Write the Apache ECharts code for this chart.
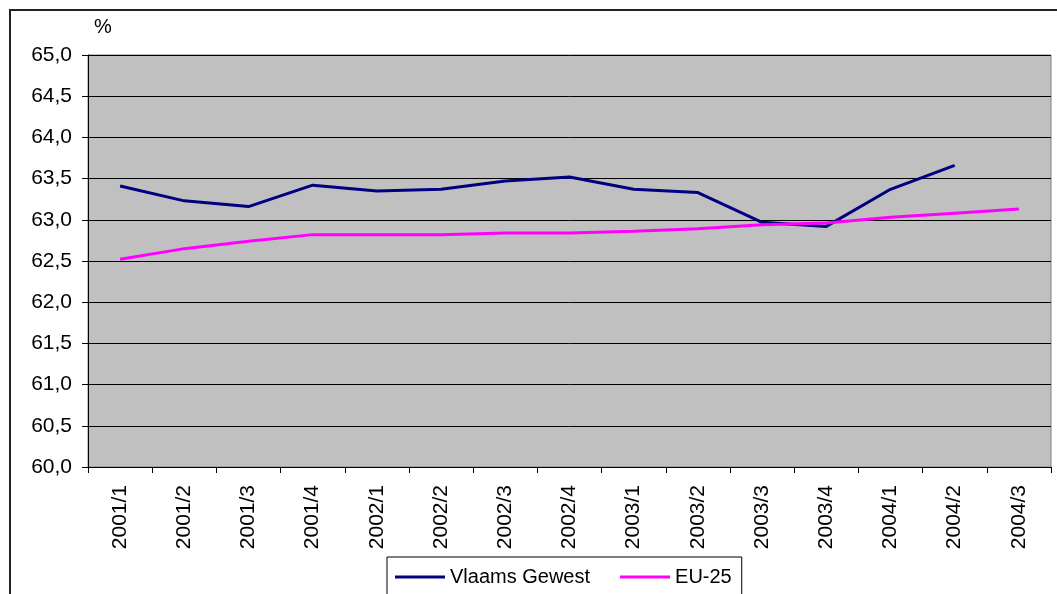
<!DOCTYPE html>
<html>
<head>
<meta charset="utf-8">
<script src="https://cdn.jsdelivr.net/npm/echarts@6/dist/echarts.min.js"></script>
<style>
  html, body { margin: 0; padding: 0; background: #fff; }
  #main { width: 1057px; height: 594px; }
</style>
</head>
<body>
<div id="main"></div>
<script>
  // kwartalen
  var categories = ['2001/1', '2001/2', '2001/3', '2001/4', '2002/1', '2002/2', '2002/3', '2002/4',
    '2003/1', '2003/2', '2003/3', '2003/4', '2004/1', '2004/2', '2004/3']
  var vlaamsGewest = [63.41, 63.23, 63.16, 63.42, 63.35, 63.37, 63.47, 63.52,
    63.37, 63.33, 62.97, 62.92, 63.37, 63.66, null]
  var eu25 = [62.52, 62.65, 62.74, 62.82, 62.82, 62.82, 62.84, 62.84,
    62.86, 62.89, 62.94, 62.96, 63.03, 63.08, 63.13]
  var seriesNames = ['Vlaams Gewest', 'EU-25']

  var font = 'Liberation Sans, Arial, sans-serif'
  var myChart = echarts.init(document.getElementById('main'))

  myChart.setOption({
    animation: false,
    graphic: [
      // kader rond de grafiek
      { type: 'rect', shape: { x: 10, y: 10, width: 1100, height: 700 },
        style: { fill: 'none', stroke: '#222', lineWidth: 2 } },
      { type: 'text', left: 94, top: 17,
        style: { text: '%', font: '20px ' + font, fill: '#000' } }
    ],
    grid: {
      left: 88, right: 6, top: 55, bottom: 127,
      show: true, backgroundColor: '#C0C0C0', borderColor: '#808080', borderWidth: 1
    },
    legend: {
      data: seriesNames,
      left: 387, top: 557,
      itemWidth: 50, itemHeight: 3, itemGap: 30,
      padding: [10, 10, 20, 8],
      borderColor: '#000', borderWidth: 1,
      icon: 'rect',
      textStyle: { fontFamily: font, fontSize: 20, color: '#000' }
    },
    xAxis: {
      type: 'category',
      data: categories,
      boundaryGap: true,
      axisLine: { lineStyle: { color: '#000', width: 1 } },
      axisTick: { show: true, interval: 0, length: 6, lineStyle: { color: '#000' } },
      axisLabel: { rotate: 90, interval: 0, margin: 18, fontFamily: font, fontSize: 21, color: '#000' }
    },
    yAxis: {
      type: 'value',
      min: 60, max: 65, interval: 0.5,
      axisLine: { show: true, lineStyle: { color: '#000', width: 1 } },
      axisTick: { show: true, length: 6, lineStyle: { color: '#000' } },
      splitLine: { lineStyle: { color: '#000', width: 1 } },
      axisLabel: {
        margin: 16, fontFamily: font, fontSize: 21, color: '#000',
        formatter: function (v) { return v.toFixed(1).replace('.', ',') }
      }
    },
    series: [
      {
        name: seriesNames[0], type: 'line', data: vlaamsGewest,
        symbol: 'none', connectNulls: false,
        itemStyle: { color: '#000080' },
        lineStyle: { color: '#000080', width: 3 }
      },
      {
        name: seriesNames[1], type: 'line', data: eu25,
        symbol: 'none',
        itemStyle: { color: '#FF00FF' },
        lineStyle: { color: '#FF00FF', width: 3 }
      }
    ]
  })
</script>
</body>
</html>
